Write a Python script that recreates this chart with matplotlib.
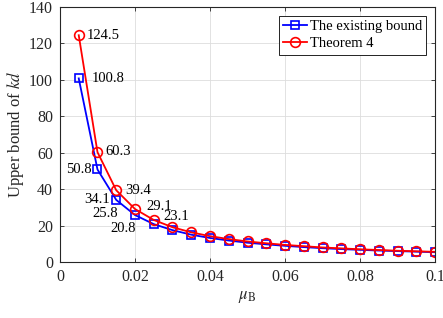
import numpy as np
import matplotlib
matplotlib.use('Agg')
import matplotlib.pyplot as plt

plt.rcParams['font.family'] = 'Liberation Serif'
plt.rcParams['mathtext.fontset'] = 'stix'

# Data
mu_b = [0.005, 0.010, 0.015, 0.020, 0.025, 0.030, 0.035, 0.040, 0.045, 0.050,
        0.055, 0.060, 0.065, 0.070, 0.075, 0.080, 0.085, 0.090, 0.095, 0.100]
existing = [100.8, 50.8, 34.1, 25.8, 20.8, 17.5, 15.0, 13.2, 11.8, 10.6,
            9.7, 8.9, 8.2, 7.6, 7.1, 6.7, 6.3, 6.0, 5.7, 5.4]
theorem4 = [124.5, 60.3, 39.4, 29.1, 23.1, 19.1, 16.3, 14.2, 12.6, 11.3,
            10.3, 9.4, 8.7, 8.0, 7.5, 7.0, 6.6, 6.2, 5.9, 5.6]

# labelled points: (index, offset in pixels, alignment)
red_labels = [(0, (8, 0), 'left'), (1, (8, 1), 'left'), (2, (9, 0), 'left'),
              (3, (11, 3), 'left'), (4, (10, 3), 'left')]
blue_labels = [(0, (13, 0), 'left'), (1, (-6, 0), 'right'), (2, (-6, 0), 'right'),
               (3, (-17, 2), 'right'), (4, (-18, -4), 'right')]

fig = plt.figure(figsize=(4.43, 3.18), dpi=100)
ax = fig.add_axes([0.1354, 0.176, 0.8466, 0.802])

ax.plot(mu_b, existing, '-s', color='#0000ff', lw=1.3, ms=6, mfc='none',
        mew=1.2, label='The existing bound')
ax.plot(mu_b, theorem4, '-o', color='#ff0000', lw=1.3, ms=7, mfc='none',
        mew=1.2, label='Theorem 4')

for i, off, ha in red_labels:
    ax.annotate(f'{theorem4[i]:.1f}', (mu_b[i], theorem4[i]), xytext=off,
                textcoords='offset pixels', ha=ha, va='center', fontsize=10.5)
for i, off, ha in blue_labels:
    ax.annotate(f'{existing[i]:.1f}', (mu_b[i], existing[i]), xytext=off,
                textcoords='offset pixels', ha=ha, va='center', fontsize=10.5)

ax.set_xlim(0, 0.1)
ax.set_ylim(0, 140)
ax.set_xticks([0, 0.02, 0.04, 0.06, 0.08, 0.1])
ax.set_xticklabels(['0', '0.02', '0.04', '0.06', '0.08', '0.1'])
ax.set_yticks(np.arange(0, 141, 20))
ax.tick_params(direction='in', top=True, right=True, labelsize=11.5,
               colors='#262626', length=3, width=0.6, pad=5)
ax.grid(True, color='#dddddd', lw=0.6)
for s in ax.spines.values():
    s.set_color('#262626')
    s.set_linewidth(0.8)

ax.set_xlabel(r'$\mu_\mathrm{B}$', fontsize=12, color='#262626', labelpad=3)
ax.set_ylabel(r'Upper bound of $kd$', fontsize=12, color='#262626', labelpad=2)

leg = ax.legend(loc='upper right', fontsize=10.5, fancybox=False, framealpha=1,
                edgecolor='black', handlelength=1.6, handletextpad=0.2,
                borderpad=0.3, labelspacing=0.25, borderaxespad=0.6)
leg.get_frame().set_linewidth(0.6)

fig.savefig('out.png', dpi=100)
